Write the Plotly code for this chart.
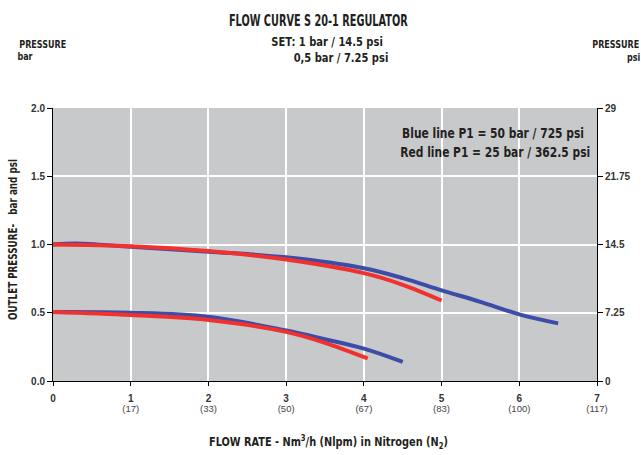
import plotly.graph_objects as go

# Data (flow in Nm3/h, outlet pressure in bar)
blue_hi_x = [0, 0.3, 1, 2, 3, 4, 4.5, 5, 5.5, 6, 6.5]
blue_hi_y = [1.0, 1.008, 0.983, 0.947, 0.906, 0.826, 0.754, 0.664, 0.58, 0.488, 0.422]
red_hi_x = [0, 1, 2, 3, 4, 4.5, 5]
red_hi_y = [1.0, 0.988, 0.952, 0.89, 0.79, 0.705, 0.59]
blue_lo_x = [0, 1, 2, 3, 3.5, 4, 4.5]
blue_lo_y = [0.505, 0.5, 0.47, 0.37, 0.306, 0.237, 0.14]
red_lo_x = [0, 1, 2, 3, 3.5, 4.05]
red_lo_y = [0.505, 0.483, 0.447, 0.36, 0.28, 0.165]

x_ticks = [0, 1, 2, 3, 4, 5, 6, 7]
x_nlpm = ["", "(17)", "(33)", "(50)", "(67)", "(83)", "(100)", "(117)"]
y_ticks = [0.0, 0.5, 1.0, 1.5, 2.0]
psi_ticks = [0, 7.25, 14.5, 21.75, 29]

BLUE = "#3B4DA6"
RED = "#F1312E"
COND = "DejaVu Sans"

fig = go.Figure()
for xs, ys, c in [(blue_hi_x, blue_hi_y, BLUE), (red_hi_x, red_hi_y, RED),
                  (blue_lo_x, blue_lo_y, BLUE), (red_lo_x, red_lo_y, RED)]:
    fig.add_trace(go.Scatter(x=xs, y=ys, mode="lines",
                             line=dict(color=c, width=4, shape="spline"),
                             showlegend=False, hoverinfo="skip"))
# invisible anchors for the secondary axes
fig.add_trace(go.Scatter(x=[0], y=[0], yaxis="y2", mode="markers",
                         marker=dict(opacity=0), showlegend=False, hoverinfo="skip"))
fig.add_trace(go.Scatter(x=[0], y=[0], xaxis="x2", mode="markers",
                         marker=dict(opacity=0), showlegend=False, hoverinfo="skip"))

fig.update_layout(
    width=641, height=455,
    margin=dict(l=53, r=44, t=108, b=74),
    paper_bgcolor="white", plot_bgcolor="#C8C9CB",
    font=dict(family="Arial", color="#333333", size=10),
    xaxis=dict(range=[0, 7], tickvals=x_ticks, ticktext=[f"<b>{v}</b>" for v in x_ticks],
               showgrid=True, gridcolor="white", gridwidth=1.5,
               showline=True, linecolor="black", linewidth=1,
               ticks="outside", ticklen=4, tickcolor="black", ticklabelstandoff=4,
               zeroline=False, fixedrange=True, automargin=False),
    xaxis2=dict(range=[0, 7], overlaying="x", side="bottom", anchor="y",
                tickvals=x_ticks, ticktext=x_nlpm, showgrid=False, showline=False,
                ticks="", ticklabelstandoff=20, tickfont=dict(size=9.5, color="#444444"),
                zeroline=False, fixedrange=True, automargin=False),
    yaxis=dict(range=[0, 2], tickvals=y_ticks, ticktext=[f"<b>{v:.1f}</b>" for v in y_ticks],
               showgrid=True, gridcolor="white", gridwidth=1.5,
               showline=True, linecolor="black", linewidth=1,
               ticks="outside", ticklen=5, tickcolor="black",
               zeroline=False, fixedrange=True, automargin=False),
    yaxis2=dict(range=[0, 29], overlaying="y", side="right",
                tickvals=psi_ticks, ticktext=[f"<b>{v:g}</b>" for v in psi_ticks],
                showgrid=False, showline=True, linecolor="black", linewidth=1,
                ticks="outside", ticklen=5, tickcolor="black",
                zeroline=False, fixedrange=True, automargin=False),
)

def ann(text, x, y, size, textangle=0):
    fig.add_annotation(text=f"<b>{text}</b>", x=x, y=y,
                       xref="paper", yref="paper", showarrow=False,
                       xanchor="center", yanchor="middle", textangle=textangle,
                       font=dict(family=COND, size=size, color="#231F20"))

# paper coords helpers: plot area x 53..597, y 108..381
def px(x):
    return (x - 53) / 544
def py(y):
    return (381 - y) / 273

ann("FLOW CURVE S 20-1 REGULATOR", px(318), py(21), 15.5)
ann("SET: 1 bar / 14.5 psi", px(327), py(41), 13)
ann("0,5 bar / 7.25 psi", px(341), py(58), 13)
ann("PRESSURE", px(42), py(44), 10.5)
ann("bar", px(25), py(56), 10.5)
ann("PRESSURE", px(615), py(44), 10.5)
ann("psi", px(633), py(57), 10.5)
ann("Blue line P1 = 50 bar / 725 psi", px(492.5), py(133), 14)
ann("Red line P1 = 25 bar / 362.5 psi", px(495), py(152), 14)
ann("OUTLET PRESSURE-   bar and psi", px(13), py(240), 11.5, textangle=-90)
ann("FLOW RATE - Nm<sup>3</sup>/h (Nlpm) in Nitrogen (N<sub>2</sub>)", px(328), py(442), 12.8)

post = """
var s = document.createElement('style');
s.textContent = 'body{margin:0 !important;} .annotation-text { font-stretch: condensed !important; transform-box: fill-box; transform-origin: center; transform: scaleX(0.85); } .annotation[data-index="0"] .annotation-text { transform: scaleX(0.7); }';
document.head.appendChild(s);
Plotly.redraw(document.getElementById('{plot_id}'));
"""

fig.write_html("out.html", post_script=post, config={"displayModeBar": False})
